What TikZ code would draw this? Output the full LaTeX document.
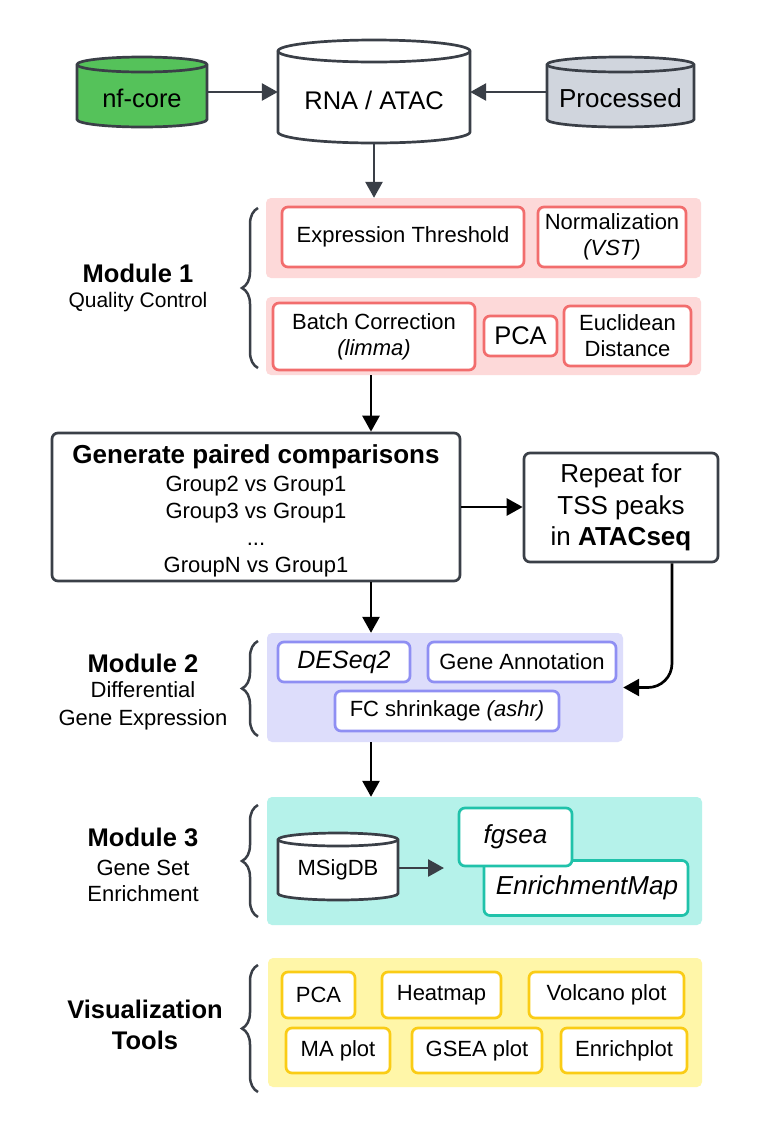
\documentclass[tikz,border=0pt]{standalone}
\usepackage{fontspec}
\setmainfont{Liberation Sans}
\usetikzlibrary{arrows.meta,decorations.pathreplacing,calc}
\definecolor{dk}{HTML}{3A3F47}
\definecolor{nfgreen}{HTML}{55C25A}
\definecolor{procgray}{HTML}{D0D5DD}
\definecolor{qcbg}{HTML}{FDD9D9}
\definecolor{qcline}{HTML}{F26D6D}
\definecolor{debg}{HTML}{DDDDFB}
\definecolor{deline}{HTML}{8F8FF3}
\definecolor{gsbg}{HTML}{B5F2EA}
\definecolor{gsline}{HTML}{20C2AA}
\definecolor{vzbg}{HTML}{FFF6A8}
\definecolor{vzline}{HTML}{FACC15}
\newcommand\sz[2]{\fontsize{#1}{#2}\selectfont}
% cylinder: cx, top, bottom, rx, ry, fill
\newcommand\cylshape[6]{%
  \draw[cylline, fill=#6] ({#1-#4},{#2+#5}) -- ({#1-#4},{#3-#5})
    arc[start angle=180, end angle=360, x radius=#4pt, y radius=#5pt]
    -- ({#1+#4},{#2+#5})
    arc[start angle=0, end angle=180, x radius=#4pt, y radius=#5pt] -- cycle;
  \draw[cylline] ({#1-#4},{#2+#5})
    arc[start angle=180, end angle=360, x radius=#4pt, y radius=#5pt];}
\begin{document}
\begin{tikzpicture}[x=1pt,y=-1pt,
  cylline/.style={draw=dk, line width=2.7pt},
  cylnode/.style={draw=none, inner sep=0pt},
  txt/.style={inner sep=0pt, align=center, font=\sz{22}{27}},
  box/.style={draw, line width=2.7pt, rounded corners=6pt, fill=white, inner sep=0pt, align=center, font=\sz{22}{26}},
  qc/.style={box, draw=qcline},
  de/.style={box, draw=deline},
  gs/.style={box, draw=gsline},
  vz/.style={box, draw=vzline},
  flow/.style={box, draw=dk},
  bgbox/.style={rounded corners=5pt, inner sep=0pt, draw=none},
  arr/.style={line width=2.7pt, -{Triangle[length=16pt,width=17pt]}},
  bracestyle/.style={draw=dk, line width=2.5pt, decorate, decoration={brace, amplitude=16pt}},
  modtitle/.style={inner sep=0pt, font=\sz{25.5}{30}\bfseries},
  modsub/.style={inner sep=0pt, font=\sz{21}{25}}
]
\fill[white] (0,0) rectangle (758,1128);
\useasboundingbox (0,0) rectangle (758,1128);

% ---------- top cylinders ----------
\cylshape{142}{57}{127}{65}{7.5}{nfgreen}
\node[cylnode, minimum width=130, minimum height=70] (nf) at (142,92) {};
\node[txt, font=\sz{25.5}{30}] (nflbl) at (142,98) {nf-core};

\cylshape{374}{40}{143}{96}{11}{white}
\node[cylnode, minimum width=192, minimum height=103] (rna) at (374,91.5) {};
\node[txt, font=\sz{25.5}{30}] (rnalbl) at (374,100) {RNA / ATAC};

\cylshape{620.5}{57}{127}{73.5}{7.5}{procgray}
\node[cylnode, minimum width=147, minimum height=70] (proc) at (620.5,92) {};
\node[txt, font=\sz{26}{30}] (proclbl) at (620.5,98) {Processed};

\draw[arr, draw=dk, fill=dk] (nf.east) -- (nf.east -| rna.west);
\draw[arr, draw=dk, fill=dk] (proc.west) -- (proc.west -| rna.east);

% ---------- Module 1 ----------
\node[bgbox, fill=qcbg, minimum width=435, minimum height=80] (m1t) at (483.5,238) {};
\node[bgbox, fill=qcbg, minimum width=435, minimum height=78] (m1b) at (483.5,336) {};
\draw[arr, draw=dk, fill=dk] (rna.south) -- (m1t.north -| rna.south);

\node[qc, minimum width=242, minimum height=60] (et) at (403,237) {Expression Threshold};
\node[qc, minimum width=148, minimum height=60] (norm) at (612,237) {Normalization\\\textit{(VST)}};
\node[qc, minimum width=202, minimum height=67] (batch) at (374,336.5) {Batch Correction\\\textit{(limma)}};
\node[qc, minimum width=73, minimum height=40, font=\sz{25.5}{30}] (pca1) at (520.5,336) {PCA};
\node[qc, minimum width=127, minimum height=60] (eucl) at (627.5,336) {Euclidean\\Distance};

\draw[bracestyle] (258,368) -- (258,208);
\node[modtitle] (m1lbl) at (138,273) {Module 1};
\node[modsub] (m1sub) at (138,302) {Quality Control};

% ---------- paired comparisons ----------
\coordinate (spine) at (371,0);
\node[flow, minimum width=408, minimum height=148, font=\sz{22}{27}] (gen) at (256,507)
  {{\sz{26}{29}\bfseries\rule{0pt}{27.5pt}Generate paired comparisons}\\[1pt]
   Group2 vs Group1\\Group3 vs Group1\\...\\GroupN vs Group1};
\node[flow, minimum width=194, minimum height=109, font=\sz{26}{31.5}] (rep) at (621,507.5)
  {Repeat for\\TSS peaks\\in \textbf{ATACseq}};
\draw[arr] (m1b.south -| spine) -- (gen.north -| spine);
\draw[arr] (gen.east) -- (gen.east -| rep.west);

% ---------- Module 2 ----------
\node[bgbox, fill=debg, minimum width=356, minimum height=109] (m2) at (445,687.5) {};
\draw[arr] (gen.south -| spine) -- (m2.north -| spine);
\coordinate (bendx) at (672,0);
\draw[arr, rounded corners=24pt] (rep.south -| bendx) |- (m2.east);

\node[de, minimum width=132, minimum height=40, font=\sz{25}{29}] (deseq) at (344,662) {\textit{DESeq2}};
\node[de, minimum width=188, minimum height=40] (ga) at (522,662) {Gene Annotation};
\node[de, minimum width=224, minimum height=40] (fc) at (447,711) {FC shrinkage \textit{(ashr)}};

\draw[bracestyle] (258,736) -- (258,641);
\node[modtitle] (m2lbl) at (143,663) {Module 2};
\node[modsub, align=center, font=\sz{22}{28}] (m2sub) at (143,706) {Differential\\Gene Expression};

% ---------- Module 3 ----------
\node[bgbox, fill=gsbg, minimum width=435, minimum height=128] (m3) at (484.5,861) {};
\draw[arr] (m2.south -| spine) -- (m3.north -| spine);

\cylshape{338}{833}{900}{60}{6.5}{white}
\node[cylnode, minimum width=120, minimum height=67] (msig) at (338,866.5) {};
\node[txt] (msiglbl) at (338,870) {MSigDB};
\coordinate (msigend) at (444,868);
\draw[arr, draw=dk, fill=dk] (msig.east |- msigend) -- (msigend);

\node[gs, minimum width=204, minimum height=55, font=\sz{26}{30}] (em) at (586,888) {\hspace*{2pt}\textit{EnrichmentMap}};
\node[gs, minimum width=113, minimum height=58, font=\sz{26}{30}] (fgsea) at (515.5,837) {\raisebox{3pt}{\textit{fgsea}}};

\draw[bracestyle] (258,917) -- (258,805);
\node[modtitle] (m3lbl) at (143,837) {Module 3};
\node[modsub, align=center, font=\sz{22}{26.5}] (m3sub) at (143,881) {Gene Set\\Enrichment};

% ---------- Visualization ----------
\node[bgbox, fill=vzbg, minimum width=434, minimum height=129] (vz) at (485,1022.5) {};
\node[vz, minimum width=73, minimum height=46] (vpca) at (318.5,995) {PCA};
\node[vz, minimum width=119, minimum height=46] (heat) at (441.5,995) {Heatmap};
\node[vz, minimum width=155, minimum height=46] (volc) at (606.5,995) {Volcano plot};
\node[vz, minimum width=104, minimum height=45] (ma) at (338,1050.5) {MA plot};
\node[vz, minimum width=130, minimum height=45] (gsea) at (477,1050.5) {GSEA plot};
\node[vz, minimum width=126, minimum height=45] (enr) at (624,1050.5) {Enrichplot};

\draw[bracestyle] (258,1092) -- (258,965);
\node[modtitle, align=center, font=\sz{25.5}{31}\bfseries] (vzlbl) at (145,1025) {Visualization\\Tools};
\end{tikzpicture}
\end{document}
